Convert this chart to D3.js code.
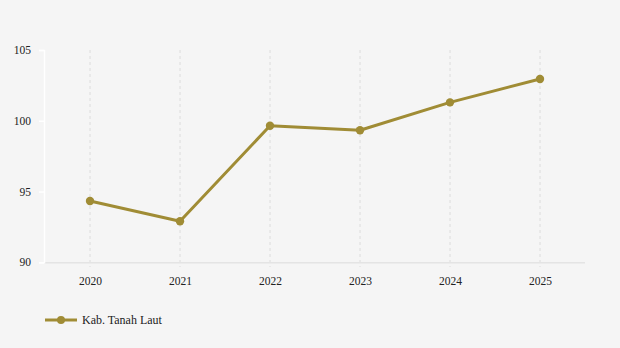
<!DOCTYPE html>
<html><head><meta charset="utf-8">
<script src="https://cdn.jsdelivr.net/npm/d3@7"></script>
<style>html,body{margin:0;padding:0;background:#f5f5f5;}svg{display:block;}</style>
</head><body>
<script>
const categories = ["2020","2021","2022","2023","2024","2025"];
const values = [94.33, 92.9, 99.65, 99.33, 101.3, 102.95];
const yTicks = [90, 95, 100, 105];
const seriesName = "Kab. Tanah Laut";

const W = 620, H = 348;
const color = "#a08c35";
const font = "Liberation Serif";
const svg = d3.select("body").append("svg").attr("width", W).attr("height", H);
svg.append("rect").attr("width", W).attr("height", H).attr("fill", "#f5f5f5");

const x = d3.scalePoint().domain(categories).range([90, 540]);
const y = d3.scaleLinear().domain([90, 105]).range([262.3, 50]);

// gridlines
svg.append("g").selectAll("line").data(categories).join("line")
  .attr("x1", d => x(d)).attr("x2", d => x(d))
  .attr("y1", 50).attr("y2", 267)
  .attr("stroke", "#dcdcdc").attr("stroke-width", 1).attr("stroke-dasharray", "3,3");

// x axis line
svg.append("line").attr("x1", 44).attr("x2", 585).attr("y1", 262.8).attr("y2", 262.8)
  .attr("stroke", "#e4e4e4").attr("stroke-width", 1.5);

// y axis
const yAxis = d3.axisLeft(y).tickValues(yTicks).tickSize(5).tickPadding(8);
const gy = svg.append("g").attr("transform", "translate(44,0)").call(yAxis);
gy.attr("font-family", font).attr("font-size", 11.5);
gy.select(".domain").attr("stroke", "#ffffff").attr("stroke-width", 1.5);
gy.selectAll(".tick line").attr("stroke", "#ffffff").attr("stroke-width", 1.5);
gy.selectAll(".tick text").attr("fill", "#222").attr("font-family", font);

// x labels
const xAxis = d3.axisBottom(x).tickSize(0).tickPadding(14);
const gx = svg.append("g").attr("transform", "translate(0,262.8)").call(xAxis);
gx.attr("font-family", font).attr("font-size", 11.5);
gx.select(".domain").remove();
gx.selectAll(".tick text").attr("fill", "#222").attr("font-family", font);

// line
const line = d3.line().x((d, i) => x(categories[i])).y(d => y(d));
svg.append("path").datum(values).attr("d", line)
  .attr("fill", "none").attr("stroke", color).attr("stroke-width", 3).attr("stroke-linejoin", "round");
svg.append("g").selectAll("circle").data(values).join("circle")
  .attr("cx", (d, i) => x(categories[i])).attr("cy", d => y(d)).attr("r", 4.2).attr("fill", color);

// legend
const lg = svg.append("g").attr("transform", "translate(45,320)");
lg.append("line").attr("x1", 0).attr("x2", 32).attr("y1", 0).attr("y2", 0).attr("stroke", color).attr("stroke-width", 3);
lg.append("circle").attr("cx", 16).attr("cy", 0).attr("r", 4).attr("fill", color);
lg.append("text").attr("x", 37).attr("y", 4).text(seriesName)
  .attr("fill", "#222").attr("font-family", font).attr("font-size", 12);
</script>
</body></html>
